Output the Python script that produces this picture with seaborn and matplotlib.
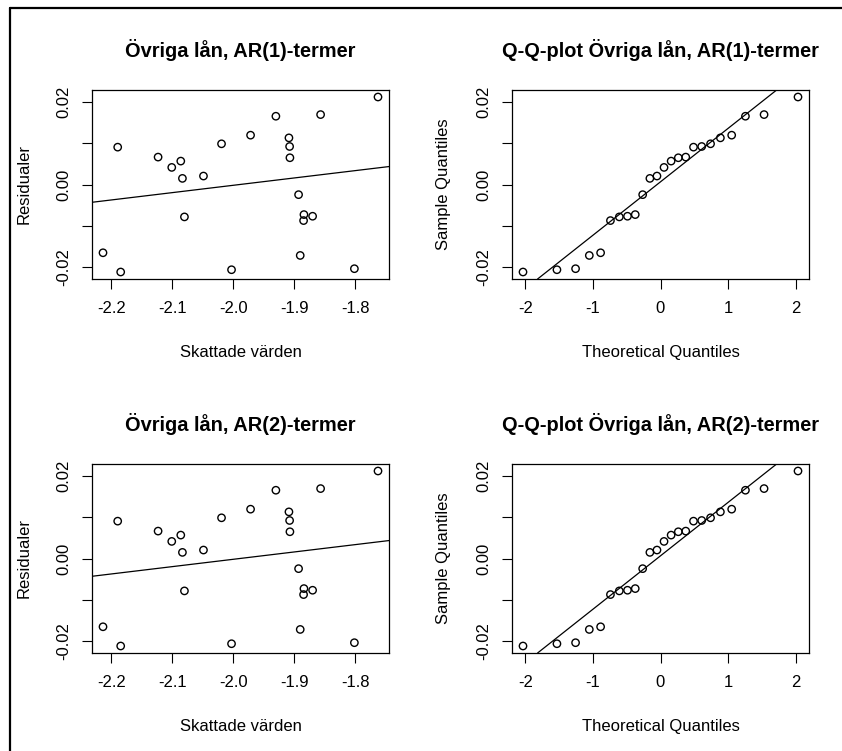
from statistics import NormalDist

import matplotlib
matplotlib.use("Agg")
import matplotlib.pyplot as plt
from matplotlib.lines import Line2D
import numpy as np
import pandas as pd
import seaborn as sns

# Fitted values and residuals, AR(1) model
fitted_ar1 = [-2.2137, -2.1847, -2.1896, -2.1234, -2.1010, -2.0862, -2.0835, -2.0802,
              -2.0490, -2.0194, -2.0030, -1.9718, -1.9303, -1.9089, -1.9078, -1.9073,
              -1.8931, -1.8843, -1.8849, -1.8701, -1.8904, -1.8570, -1.8016, -1.7629]
resid_ar1 = [-0.01654, -0.02120, 0.00905, 0.00664, 0.00414, 0.00567, 0.00148, -0.00785,
             0.00205, 0.00986, -0.02065, 0.01195, 0.01654, 0.01130, 0.00921, 0.00648,
             -0.00246, -0.00729, -0.00874, -0.00769, -0.01719, 0.01694, -0.02040, 0.02120]

# Fitted values and residuals, AR(2) model
fitted_ar2 = [-2.2137, -2.1847, -2.1896, -2.1234, -2.1010, -2.0862, -2.0835, -2.0802,
              -2.0490, -2.0194, -2.0030, -1.9718, -1.9303, -1.9089, -1.9078, -1.9073,
              -1.8931, -1.8843, -1.8849, -1.8701, -1.8904, -1.8570, -1.8016, -1.7629]
resid_ar2 = [-0.01654, -0.02120, 0.00905, 0.00664, 0.00414, 0.00567, 0.00148, -0.00785,
             0.00205, 0.00986, -0.02065, 0.01195, 0.01654, 0.01130, 0.00921, 0.00648,
             -0.00246, -0.00729, -0.00874, -0.00769, -0.01719, 0.01694, -0.02040, 0.02120]

titles_resid = ["Övriga lån, AR(1)-termer", "Övriga lån, AR(2)-termer"]
titles_qq = ["Q-Q-plot Övriga lån, AR(1)-termer", "Q-Q-plot Övriga lån, AR(2)-termer"]

x_ticks_resid = [-2.2, -2.1, -2.0, -1.9, -1.8]
x_ticklabels_resid = ["-2.2", "-2.1", "-2.0", "-1.9", "-1.8"]
x_ticks_qq = [-2, -1, 0, 1, 2]
x_ticklabels_qq = ["-2", "-1", "0", "1", "2"]
y_ticks = [-0.02, -0.01, 0.0, 0.01, 0.02]
y_ticklabels = ["-0.02", "", "0.00", "", "0.02"]

sns.set_theme(style="white")
plt.rcParams["font.family"] = ["Liberation Sans", "DejaVu Sans"]
plt.rcParams["text.color"] = "black"
plt.rcParams["axes.labelcolor"] = "black"

fig = plt.figure(figsize=(8.42, 7.51), dpi=100)
W, H = 842, 751


def add_axes_px(left, top, right, bottom):
    return fig.add_axes([left / W, 1 - bottom / H, (right - left) / W, (bottom - top) / H])


def padded(lo, hi, frac=0.04):
    span = hi - lo
    return lo - frac * span, hi + frac * span


def style_axes(ax, title, xlabel, ylabel, xticks, xticklabels):
    for s in ax.spines.values():
        s.set_visible(True)
        s.set_color("black")
        s.set_linewidth(0.9)
    ax.set_xticks(xticks)
    ax.set_xticklabels(xticklabels)
    ax.set_yticks(y_ticks)
    ax.set_yticklabels(y_ticklabels, rotation=90, va="center")
    ax.tick_params(axis="both", direction="out", length=7.5, width=0.8,
                   color="black", labelsize=12, labelcolor="black",
                   bottom=True, left=True)
    ax.tick_params(axis="x", pad=8.5)
    ax.tick_params(axis="y", pad=7.5)
    ax.set_title(title, fontsize=14.4, fontweight="bold", pad=24)
    ax.set_xlabel(xlabel, fontsize=12, labelpad=21)
    ax.set_ylabel(ylabel, fontsize=12, labelpad=18)
    ax.grid(False)


def residual_panel(ax, fitted, resid, title):
    df = pd.DataFrame({"fitted": fitted, "resid": resid})
    xlim = padded(df["fitted"].min(), df["fitted"].max())
    ylim = padded(df["resid"].min(), df["resid"].max())
    ax.set_xlim(xlim)
    ax.set_ylim(ylim)
    sns.scatterplot(data=df, x="fitted", y="resid", ax=ax, marker="o", s=28,
                    facecolor="none", edgecolor="black", linewidth=1.0, legend=False)
    sns.regplot(data=df, x="fitted", y="resid", ax=ax, scatter=False, ci=None,
                truncate=False, line_kws={"color": "black", "linewidth": 0.9})
    ax.set_xlim(xlim)
    ax.set_ylim(ylim)
    style_axes(ax, title, "Skattade värden", "Residualer",
               x_ticks_resid, x_ticklabels_resid)


def qq_panel(ax, resid, title):
    sample = np.sort(np.asarray(resid))
    n = len(sample)
    probs = (np.arange(1, n + 1) - 0.5) / n
    theo = np.array([NormalDist().inv_cdf(p) for p in probs])
    df = pd.DataFrame({"theo": theo, "sample": sample})
    xlim = padded(theo.min(), theo.max())
    ylim = padded(sample.min(), sample.max())
    sns.scatterplot(data=df, x="theo", y="sample", ax=ax, marker="o", s=28,
                    facecolor="none", edgecolor="black", linewidth=1.0, legend=False)
    # reference line through the first and third quartiles
    q1, q3 = np.percentile(sample, [25, 75])
    z1, z3 = NormalDist().inv_cdf(0.25), NormalDist().inv_cdf(0.75)
    slope = (q3 - q1) / (z3 - z1)
    intercept = q1 - slope * z1
    ax.axline((0, intercept), slope=slope, color="black", linewidth=0.9)
    ax.set_xlim(xlim)
    ax.set_ylim(ylim)
    style_axes(ax, title, "Theoretical Quantiles", "Sample Quantiles",
               x_ticks_qq, x_ticklabels_qq)


ax1 = add_axes_px(92, 90, 389, 279)
ax2 = add_axes_px(512, 90, 809, 279)
ax3 = add_axes_px(92, 464, 389, 653)
ax4 = add_axes_px(512, 464, 809, 653)

residual_panel(ax1, fitted_ar1, resid_ar1, titles_resid[0])
qq_panel(ax2, resid_ar1, titles_qq[0])
residual_panel(ax3, fitted_ar2, resid_ar2, titles_resid[1])
qq_panel(ax4, resid_ar2, titles_qq[1])

# outer frame on the left and top edges
fig.add_artist(Line2D([9.5 / W, 9.5 / W], [0, 1 - 7.5 / H], transform=fig.transFigure,
                      color="black", linewidth=1.6))
fig.add_artist(Line2D([9.5 / W, 1], [1 - 7.5 / H, 1 - 7.5 / H], transform=fig.transFigure,
                      color="black", linewidth=1.6))

fig.savefig("out.png", dpi=100, facecolor="white")
